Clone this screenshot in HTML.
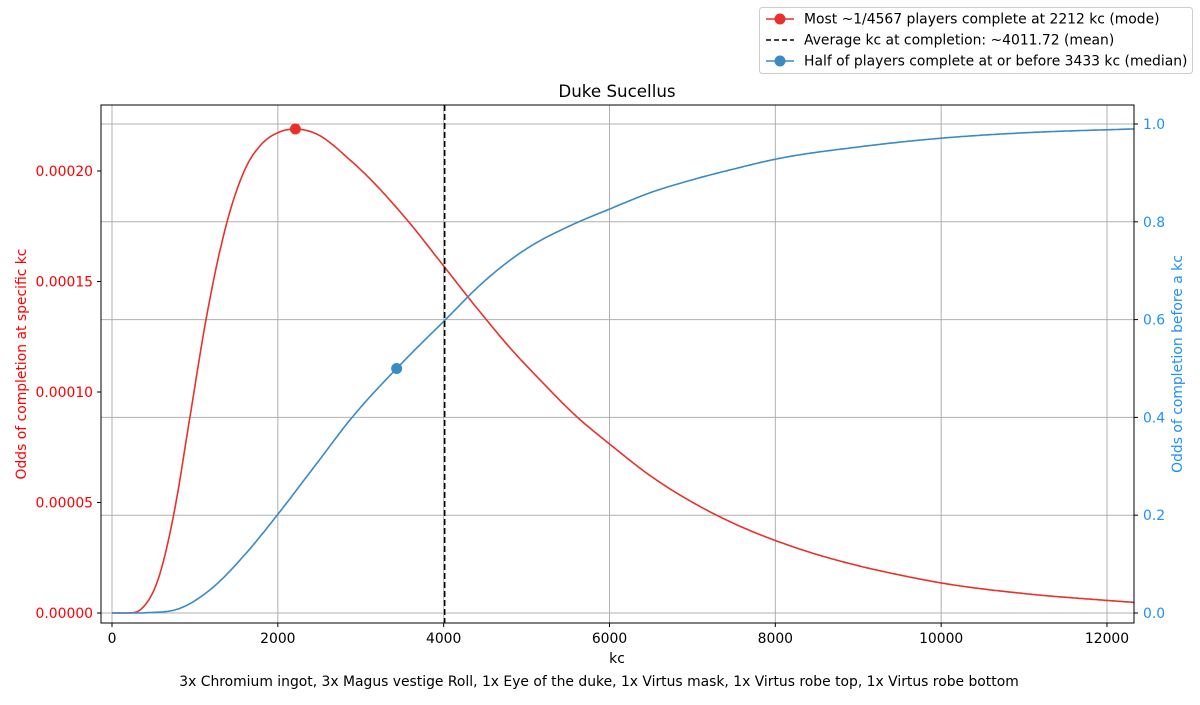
<!DOCTYPE html>
<html><head><meta charset="utf-8"><style>
body{margin:0;background:#fff;}
svg{font-family:"DejaVu Sans","Liberation Sans",sans-serif;}
</style></head><body>
<svg id="chart" width="1200" height="700" xmlns="http://www.w3.org/2000/svg">
<rect width="1200" height="700" fill="#fff"/>
<g id="grid"></g>
<g id="marks"></g>
<rect x="101" y="105" width="1033" height="518" fill="none" stroke="#000" stroke-width="1"/>
<g id="axes"></g>
<text x="617" y="97" text-anchor="middle" font-size="16.7">Duke Sucellus</text>
<text x="617" y="663" text-anchor="middle" font-size="13.9">kc</text>
<text x="599" y="686" text-anchor="middle" font-size="13.9">3x Chromium ingot, 3x Magus vestige Roll, 1x Eye of the duke, 1x Virtus mask, 1x Virtus robe top, 1x Virtus robe bottom</text>
<text transform="translate(26,364) rotate(-90)" text-anchor="middle" font-size="13.9" fill="#ff0000">Odds of completion at specific kc</text>
<text transform="translate(1182,364) rotate(-90)" text-anchor="middle" font-size="13.9" fill="#1e90ff">Odds of completion before a kc</text>
<g>
<rect x="759.5" y="7.5" width="433" height="66" rx="3" fill="#fff" stroke="#ccc"/>
<line x1="766" y1="19" x2="794" y2="19" stroke="#e8312a" stroke-width="1.5"/>
<circle cx="780" cy="19" r="5.5" fill="#e8312a"/>
<text x="804" y="23.5" font-size="13.9">Most ~1/4567 players complete at 2212 kc (mode)</text>
<line x1="766" y1="40" x2="794" y2="40" stroke="#000" stroke-width="1.5" stroke-dasharray="5,3"/>
<text x="804" y="44.5" font-size="13.9">Average kc at completion: ~4011.72 (mean)</text>
<line x1="766" y1="61" x2="794" y2="61" stroke="#3a8ac4" stroke-width="1.5"/>
<circle cx="780" cy="61" r="5.5" fill="#3a8ac4"/>
<text x="804" y="65.5" font-size="13.9">Half of players complete at or before 3433 kc (median)</text>
</g>
</svg>
<script>
const xTicks=[0,2000,4000,6000,8000,10000,12000];
const leftTicks=[0,0.00005,0.0001,0.00015,0.0002];
const leftTickLabels=["0.00000","0.00005","0.00010","0.00015","0.00020"];
const rightTicks=[0,0.2,0.4,0.6,0.8,1.0];
const rightTickLabels=["0.0","0.2","0.4","0.6","0.8","1.0"];
const pdfKc=[0,200,340,580,740,940,1140,1380,1620,1800,2010,2212,2420,2900,3600,4000,4400,4800,5200,5600,6000,6500,7000,7500,8000,8500,9000,9500,10000,11000,12000,12330];
const pdfVal=[0,0,0.0000014,0.000018,0.0000436,0.0000888,0.000134,0.000176,0.000202,0.000212,0.0002175,0.000219,0.0002175,0.000204,0.000176,0.000157,0.000138,0.00012,0.000104,0.000089,0.0000765,0.0000619,0.0000501,0.0000405,0.0000328,0.0000265,0.0000214,0.0000172,0.0000136,0.0000088,0.0000057,0.0000048];
const cdfKc=[0,400,820,1180,1580,2010,2470,2900,3433,4016,4500,5000,5500,6000,6500,7000,7500,8000,9000,10000,11000,12330];
const cdfVal=[0,0.0005,0.0096,0.047,0.115,0.204,0.306,0.401,0.5,0.599,0.68,0.745,0.79,0.826,0.86,0.886,0.908,0.928,0.953,0.971,0.982,0.99];
const modeKc=2212, meanKc=4011.72, medianKc=3433;
const X=v=>112+v*(1107-112)/12000;
const YL=v=>613-v*442/0.0002;
const YR=v=>613-v*489;
const NS="http://www.w3.org/2000/svg";
function mk(tag,attrs,parent){const e=document.createElementNS(NS,tag);for(const k in attrs)e.setAttribute(k,attrs[k]);parent.appendChild(e);return e;}
const grid=document.getElementById('grid'),marks=document.getElementById('marks'),axes=document.getElementById('axes');
xTicks.forEach(t=>{
 const g=mk('line',{x1:X(t),x2:X(t),y1:105,y2:623,stroke:'#b0b0b0','stroke-width':1},grid);
 
 
 mk('line',{x1:X(t),x2:X(t),y1:623,y2:627,stroke:'#000'},axes);
 const tx=mk('text',{x:X(t),y:643,'text-anchor':'middle','font-size':13.9},axes);tx.textContent=t;
 
 
});
rightTicks.forEach((t,i)=>{
 const g=mk('line',{x1:101,x2:1134,y1:YR(t),y2:YR(t),stroke:'#b0b0b0','stroke-width':1},grid);
 
 
 mk('line',{x1:1134,x2:1138,y1:YR(t),y2:YR(t),stroke:'#000'},axes);
 const tx=mk('text',{x:1143,y:YR(t)+5,'font-size':13.9,fill:'#1e90ff'},axes);tx.textContent=rightTickLabels[i];
 
 
});
leftTicks.forEach((t,i)=>{
 mk('line',{x1:97,x2:101,y1:YL(t),y2:YL(t),stroke:'#000'},axes);
 const tx=mk('text',{x:93,y:YL(t)+5,'text-anchor':'end','font-size':13.9,fill:'#ff0000'},axes);tx.textContent=leftTickLabels[i];
 
 
});
function slopes(xs,ys){
 const n=xs.length,d=[],m=[];
 for(let k=0;k<n-1;k++)d.push((ys[k+1]-ys[k])/(xs[k+1]-xs[k]));
 m[0]=d[0];m[n-1]=d[n-2];
 for(let k=1;k<n-1;k++){
  const h0=xs[k]-xs[k-1],h1=xs[k+1]-xs[k];
  m[k]=(d[k-1]*h1+d[k]*h0)/(h0+h1);
 }
 return m;
}
function interp(xs,ys,m,x){
 const n=xs.length;let i=0;while(i<n-2&&x>xs[i+1])i++;
 const h=xs[i+1]-xs[i],t=(x-xs[i])/h;
 const h00=2*t*t*t-3*t*t+1,h10=t*t*t-2*t*t+t,h01=-2*t*t*t+3*t*t,h11=t*t*t-t*t;
 return Math.max(0,h00*ys[i]+h10*h*m[i]+h01*ys[i+1]+h11*h*m[i+1]);
}
const pdfM=slopes(pdfKc,pdfVal),cdfM=slopes(cdfKc,cdfVal);
function curve(xs,ys,m,Y,color,name){
 let d='';const x0=xs[0],x1=xs[xs.length-1];
 for(let s=0;s<=600;s++){const x=x0+(x1-x0)*s/600;d+=(s?'L':'M')+X(x).toFixed(1)+','+Y(interp(xs,ys,m,x)).toFixed(1);}
 const p=mk('path',{d:d,fill:'none',stroke:color,'stroke-width':1.6,'stroke-linejoin':'round'},marks);
 
 
}
curve(pdfKc,pdfVal,pdfM,YL,'#e8312a','pdf-curve');
curve(cdfKc,cdfVal,cdfM,YR,'#3a8ac4','cdf-curve');
const ml=mk('line',{x1:X(meanKc),x2:X(meanKc),y1:105,y2:623,stroke:'#000','stroke-width':1.6,'stroke-dasharray':'6,3'},marks);


const c1=mk('circle',{cx:X(modeKc),cy:YL(interp(pdfKc,pdfVal,pdfM,modeKc)),r:5.5,fill:'#e8312a'},marks);


const c2=mk('circle',{cx:X(medianKc),cy:YR(interp(cdfKc,cdfVal,cdfM,medianKc)),r:5.5,fill:'#3a8ac4'},marks);


</script>
</body></html>
